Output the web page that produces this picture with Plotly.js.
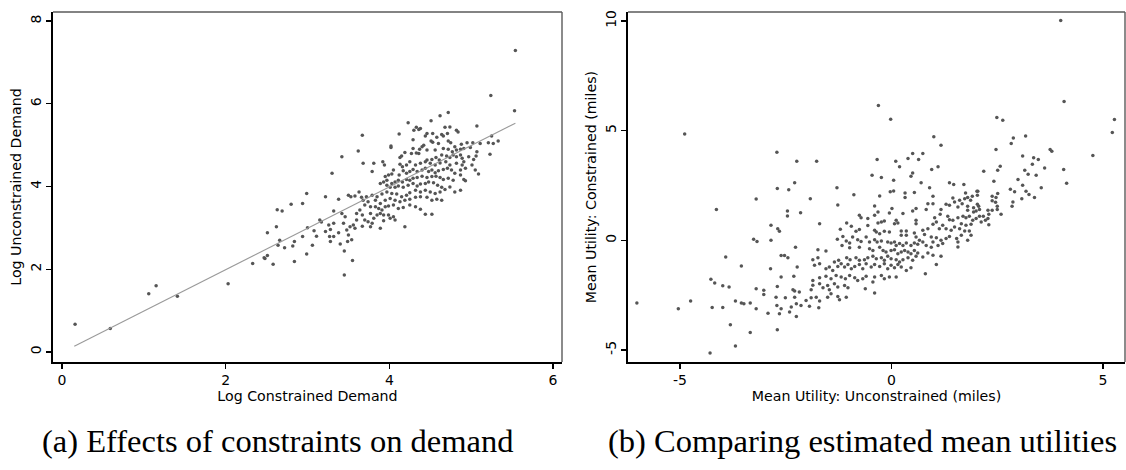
<!DOCTYPE html>
<html>
<head>
<meta charset="utf-8">
<script src="https://cdn.plot.ly/plotly-3.0.1.min.js"></script>
<style>
  html, body { margin: 0; padding: 0; background: #ffffff; }
  #chart { width: 1126px; height: 470px; }
</style>
</head>
<body>
<div id="chart"></div>
<script>
// ---- Panel (a): log constrained vs. log unconstrained demand ----
const demandConstrained = [
  0.16,0.59,1.06,1.15,1.41,2.03,2.33,2.47,2.48,2.51,2.51,2.58,2.62,2.63,2.66,2.64,2.69,2.72,2.80,2.82,2.84,2.84,
  5.54,5.24,3.30,3.42,3.62,3.63,
  2.99,2.94,3.22,3.38,3.50,3.53,3.58,3.32,3.15,3.17,3.00,3.08,3.11,2.94,3.06,2.99,3.26,3.28,3.27,3.32,3.38,3.40,
  3.45,3.45,3.55,3.49,3.54,3.50,3.48,3.52,3.56,3.58,3.42,3.46,3.60,3.32,3.44,3.60,3.22,3.28,
  4.72,4.62,5.53,4.51,4.23,5.07,4.33,4.36,4.38,4.30,4.68,4.74,4.82,4.84,4.53,4.46,4.12,3.67,4.71,4.66,
  4.64,4.44,4.58,4.29,4.72,4.75,4.60,4.51,4.53,5.25,5.33,5.27,5.21,5.11,5.02,4.95,4.88,4.80,4.82,4.02,
  4.02,4.29,4.37,4.40,4.42,4.46,4.56,4.66,4.72,4.77,4.87,4.91,4.99,5.07,5.23,4.36,4.33,4.27,4.19,4.15,
  4.13,4.64,4.70,4.74,4.78,4.82,4.87,4.89,4.97,5.03,5.06,4.46,4.52,4.57,4.61,4.44,4.38,4.32,4.25,4.21,
  4.16,4.13,3.92,3.94,3.81,3.68,3.79,4.50,4.56,4.62,4.69,4.74,4.82,4.89,4.91,5.01,5.05,5.09,4.93,4.87,
  4.05,4.03,3.99,3.95,4.12,4.17,4.21,4.25,4.29,4.34,4.40,4.44,4.48,4.52,4.56,4.60,4.66,4.71,4.76,4.80,
  4.87,4.91,4.93,4.78,4.72,4.66,4.62,4.57,4.52,4.46,4.40,4.34,4.29,4.25,4.21,4.16,4.11,4.07,4.03,3.97,
  3.93,3.89,3.97,4.01,4.07,4.11,4.17,4.23,4.29,4.34,4.38,4.44,4.48,4.54,4.59,4.64,4.68,4.74,4.80,4.87,
  4.62,4.56,4.50,4.44,4.38,4.32,4.25,4.21,4.15,4.09,4.03,3.97,3.91,3.85,3.79,3.72,3.66,3.68,3.74,3.83,
  3.89,3.95,4.01,4.07,4.13,4.19,4.25,4.32,4.38,4.46,4.52,4.58,4.64,3.70,3.77,3.83,3.87,3.91,3.95,3.99,
  4.05,4.11,4.17,4.25,4.32,4.38,4.44,4.52,3.89,3.85,3.93,3.99,4.05,3.81,3.77,3.67,3.70,3.74,3.79,3.67,
  3.77,3.89,4.19,4.01,4.07,3.93,3.64
];
const demandUnconstrained = [
  0.67,0.57,1.41,1.60,1.35,1.65,2.14,2.28,2.26,2.33,2.88,2.12,3.03,3.44,2.70,2.58,3.41,2.52,3.57,2.56,2.67,2.19,
  7.29,6.20,4.32,4.72,4.86,3.87,
  3.83,3.59,3.75,3.69,3.79,3.75,3.77,3.41,3.19,3.14,3.00,2.93,2.80,2.79,2.58,2.37,3.07,2.96,2.79,2.79,2.88,2.61,
  2.44,1.86,2.21,2.67,2.71,2.83,2.95,3.03,3.07,2.99,3.35,3.27,3.35,3.11,3.11,3.19,2.91,2.67,
  5.79,5.71,5.83,5.59,5.54,5.46,5.43,5.38,5.40,5.36,5.43,5.44,5.36,5.32,5.28,5.28,5.27,5.24,5.28,5.22,
  5.26,5.22,5.19,5.13,5.10,5.06,5.04,5.10,5.07,5.22,5.10,5.04,5.06,5.04,5.06,5.06,5.02,4.96,4.88,4.98,
  4.94,4.92,4.90,4.96,5.00,4.88,4.88,4.92,4.90,4.84,4.90,4.92,4.94,4.84,4.78,4.80,4.81,4.80,4.82,4.74,
  4.70,4.76,4.74,4.70,4.76,4.72,4.76,4.68,4.72,4.65,4.74,4.64,4.65,4.70,4.64,4.60,4.56,4.52,4.60,4.52,
  4.48,4.54,4.60,4.52,4.56,4.56,4.36,4.56,4.52,4.57,4.60,4.52,4.56,4.52,4.60,4.52,4.40,4.30,4.44,4.40,
  4.40,4.30,4.28,4.24,4.28,4.38,4.32,4.36,4.41,4.36,4.40,4.44,4.36,4.40,4.33,4.38,4.41,4.44,4.40,4.32,
  4.28,4.17,4.14,4.15,4.20,4.17,4.22,4.25,4.24,4.22,4.25,4.22,4.20,4.15,4.17,4.11,4.15,4.11,4.07,4.15,
  4.11,4.07,4.03,3.98,3.98,4.01,3.98,4.03,4.07,4.01,4.06,4.07,4.11,4.09,4.03,3.98,3.93,3.99,3.87,3.91,
  3.87,3.83,3.87,3.91,3.87,3.91,3.85,3.79,3.75,3.82,3.83,3.87,3.82,3.75,3.79,3.75,3.74,3.67,3.63,3.67,
  3.59,3.67,3.71,3.67,3.63,3.67,3.69,3.74,3.75,3.74,3.67,3.69,3.67,3.55,3.51,3.51,3.47,3.43,3.51,3.53,
  3.55,3.47,3.49,3.55,3.51,3.45,3.33,3.33,3.35,3.31,3.31,3.31,3.27,3.23,3.35,3.31,3.19,3.15,3.11,3.04,
  3.03,2.99,3.03,3.23,3.19,3.17,3.43
];
// Linear fit drawn across the observed range
const fitX = [0.15, 5.54];
const fitY = [0.14, 5.53];

// ---- Panel (b): estimated mean utilities ----
const utilUnconstrained = [
  -4.89,-2.71,-2.24,-1.77,
  -6.02,-5.04,-4.75,-4.29,-4.24,-4.14,-4.27,-4.18,-3.99,-3.84,-3.99,-3.92,-3.81,-3.69,-3.69,-3.55,
  -3.55,-3.49,-3.34,-3.34,-3.26,-3.18,-3.20,-3.20,-3.20,
  -2.92,-2.65,-2.41,-2.25,-2.70,
  -0.46,-0.24,0.05,0.50,0.46,-2.29,-2.70,-2.43,-1.29,-1.92,-0.89,-0.28,-0.03,0.05,0.32,0.32,0.54,
  -2.46,-2.46,-2.15,-1.27,-0.40,0.01,-0.05,-0.32,-0.40,-0.76,-0.72,-0.56,0.11,0.15,0.07,0.27,0.50,0.58,0.58,0.58,
  -1.70,-1.06,-0.32,-0.24,-0.17,-2.85,-2.69,-2.65,-1.21,-0.95,-0.84,-0.76,-0.56,-0.40,-0.36,-0.28,-0.17,-0.05,
  0.23,0.35,0.23,0.35,0.54,0.58,-2.85,-1.28,-1.15,-1.07,-0.99,-0.92,-0.80,-0.72,-0.60,-0.52,-0.40,-0.34,-0.24,
  -0.09,-0.01,0.07,0.11,0.19,0.27,0.35,0.46,0.54,0.62,-2.27,-1.74,-1.55,-1.17,-0.99,-0.76,-0.52,-0.44,-0.28,-0.20,
  -0.13,-0.01,0.07,0.15,0.23,0.31,0.39,0.46,0.54,0.62,-2.61,-2.53,-2.45,-1.86,-1.74,-1.35,-1.25,-1.06,-0.98,-0.84,
  -0.76,-0.64,-0.56,-0.44,-0.36,-0.24,-0.17,-0.09,-0.01,0.11,0.19,0.27,0.39,0.50,0.58,-2.86,-2.23,-1.82,-1.70,-1.55,
  -1.47,-1.39,-1.27,-1.19,-1.11,-1.03,-0.95,-0.87,-0.76,-0.68,-0.60,-0.48,-0.40,-0.28,-0.17,-0.09,-0.01,0.07,0.15,0.23,
  0.35,0.46,-2.61,-2.31,-1.86,-1.70,-1.55,-1.43,-1.31,-1.19,-1.09,-0.99,-0.87,-0.80,-0.68,-0.60,-0.44,-0.40,-0.24,-0.17,
  -0.05,0.11,-3.02,-3.02,-2.70,-2.33,-2.29,-2.18,-1.90,-1.86,-1.70,-1.62,-1.51,-1.47,-1.35,-1.27,-1.11,-1.03,-0.62,-0.40,
  -2.73,-2.51,-2.29,-2.02,-1.90,-1.78,-1.70,-1.51,-1.43,-1.27,-1.23,-1.07,-2.71,-2.61,-2.37,-2.25,-2.14,-1.94,-1.72,
  2.49,2.63,1.00,1.17,3.17,2.88,2.83,2.47,3.75,3.79,3.10,3.36,3.47,0.50,0.39,0.64,0.74,0.19,0.95,1.10,2.18,2.51,2.57,
  3.33,3.62,3.15,3.23,3.42,2.99,2.42,1.37,1.47,1.71,0.70,0.90,2.04,2.81,2.91,3.10,3.18,3.25,3.38,3.54,3.08,2.87,2.85,
  2.51,2.47,2.38,2.38,2.46,2.50,2.38,2.50,2.59,2.28,2.30,2.28,2.17,2.22,2.30,2.02,2.03,1.91,1.80,1.87,1.75,1.73,2.03,
  2.06,2.08,2.00,1.94,1.94,1.80,1.80,1.61,1.67,1.57,1.45,1.49,1.37,1.29,1.17,1.15,0.98,0.86,0.82,0.98,1.02,1.06,0.98,
  1.33,1.37,1.45,1.57,1.69,1.76,1.84,1.92,2.00,2.08,2.12,1.65,1.76,1.88,1.49,1.61,1.73,1.21,1.29,1.41,1.13,1.84,1.88,
  1.80,1.65,1.54,1.57,1.37,1.29,1.17,1.06,0.94,0.86,0.74,0.78,0.98,1.10,1.21,0.82,0.94,0.66,0.74,1.57,
  4.00,4.08,-0.31,-0.02,5.27,5.22,4.76,4.07,4.14,-0.34,0.10,
  0.80,1.06,1.17,0.74,0.86,0.98
];
const utilConstrained = [
  4.85,4.02,3.61,3.61,
  -2.86,-3.12,-2.77,-5.14,-3.06,1.40,-1.78,-1.95,-2.07,-2.13,-3.06,-0.76,-3.85,-2.77,-4.82,-1.17,
  -2.86,-2.89,-2.86,-4.20,0.05,-0.05,1.89,-2.21,-3.12,
  -3.32,-3.35,-3.27,-3.47,-4.08,
  2.97,2.86,2.74,3.07,2.92,2.63,2.36,2.31,2.40,1.90,2.08,2.02,2.21,2.25,2.16,1.95,2.18,
  1.34,1.11,1.26,1.61,1.57,1.45,1.25,1.29,1.14,1.14,1.03,0.99,0.91,0.79,0.76,1.22,1.34,1.45,0.91,0.76,
  0.76,0.79,0.79,0.84,0.88,0.69,0.53,0.41,0.50,0.64,0.41,0.49,0.68,0.46,0.38,0.30,0.41,0.38,
  0.43,0.43,0.23,0.23,0.33,0.15,0.00,0.05,0.18,-0.03,-0.12,0.15,0.03,-0.05,0.15,-0.08,0.03,-0.08,-0.03,
  -0.08,-0.12,-0.08,-0.23,-0.15,-0.23,-0.12,-0.23,-0.12,-0.18,-0.31,-0.43,-0.49,-0.23,-0.34,-0.31,-0.38,-0.46,-0.31,-0.46,
  -0.53,-0.46,-0.43,-0.61,-0.53,-0.46,-0.53,-0.61,-0.46,-0.58,-0.69,-0.69,-0.79,-0.88,-0.79,-0.99,-0.91,-0.79,-0.88,-0.79,
  -0.91,-0.88,-0.79,-0.73,-0.84,-0.79,-0.91,-0.73,-0.84,-0.88,-0.99,-0.88,-0.79,-0.91,-0.73,-1.29,-1.22,-1.14,-1.07,-1.29,
  -1.22,-1.37,-1.19,-1.07,-1.22,-1.10,-1.29,-1.19,-1.10,-1.29,-1.07,-1.22,-1.10,-1.19,-1.07,-1.29,-1.14,-1.25,-1.10,-1.22,
  -1.37,-1.25,-1.67,-1.64,-1.83,-1.71,-1.64,-1.75,-1.60,-1.67,-1.75,-1.60,-1.71,-1.83,-1.75,-1.64,-1.90,-1.67,-1.60,-1.75,
  -1.67,-1.67,-2.28,-2.47,-2.10,-2.25,-2.31,-2.36,-2.25,-2.05,-1.98,-2.16,-2.06,-2.25,-1.98,-2.13,-2.06,-2.16,-2.21,-2.40,
  -2.59,-2.62,-2.59,-2.74,-2.62,-2.59,-2.77,-2.59,-2.44,-2.56,-2.71,-2.59,-2.97,-3.12,-3.04,-2.89,-2.97,-3.01,-3.07,
  5.60,5.48,4.72,4.34,4.76,4.67,4.41,4.14,4.14,4.06,3.85,3.77,3.68,3.96,3.73,3.68,3.96,3.35,3.23,3.35,3.15,3.20,3.38,
  3.47,3.30,3.20,3.01,2.97,2.77,2.69,2.62,2.54,2.54,2.62,2.40,2.24,2.33,2.21,2.51,2.24,2.09,1.95,2.40,1.90,1.75,1.55,
  2.13,1.95,2.01,1.80,1.74,1.55,1.37,1.40,1.19,1.37,1.19,0.99,1.10,0.91,0.71,2.24,2.05,2.01,1.95,1.83,2.16,1.90,1.64,
  1.55,1.40,1.34,1.49,1.29,1.55,1.37,1.83,1.67,1.52,1.93,1.75,1.60,1.64,1.40,1.19,2.01,1.67,1.41,1.67,1.03,0.84,0.73,
  1.10,0.94,0.91,1.03,1.10,1.03,1.10,0.91,0.99,1.10,0.84,0.76,0.69,0.73,0.61,0.53,0.43,0.69,0.53,0.46,0.53,0.43,0.23,
  0.00,0.23,0.08,-0.08,0.18,0.08,0.00,0.12,0.15,0.53,0.46,0.27,-0.08,-0.23,-0.15,-0.23,-0.31,0.00,-0.08,-0.30,
  10.02,6.33,6.15,5.52,5.51,4.92,3.87,3.23,2.60,3.69,3.61,
  -1.52,-1.10,-0.73,-0.76,-0.58,-0.68
];

// ---- Tick labels and captions ----
const aXTicks = [0, 2, 4, 6];
const aYTicks = [0, 2, 4, 6, 8];
const bXTicks = [-5, 0, 5];
const bYTicks = [-5, 0, 5, 10];
const captionA = "(a) Effects of constraints on demand";
const captionB = "(b) Comparing estimated mean utilities";

const W = 1126, H = 470;
const px = v => v / W;
const py = v => 1 - v / H;

const dotStyle = { color: '#555555', size: 3.5, line: { width: 0 } };
const tickFont = { family: 'DejaVu Sans, sans-serif', size: 14, color: '#000' };
const titleFont = { family: 'DejaVu Sans, sans-serif', size: 14.2, color: '#000' };

function axisBase(extra) {
  return Object.assign({
    showgrid: false, zeroline: false,
    showline: true, linecolor: '#000', linewidth: 1.6,
    ticks: 'outside', ticklen: 5, tickwidth: 1.2, tickcolor: '#000',
    tickfont: tickFont, tickmode: 'array', fixedrange: true
  }, extra);
}

const traces = [
  { type: 'scatter', mode: 'markers', x: demandConstrained, y: demandUnconstrained,
    xaxis: 'x', yaxis: 'y', marker: dotStyle, hoverinfo: 'skip' },
  { type: 'scatter', mode: 'lines', x: fitX, y: fitY, xaxis: 'x', yaxis: 'y',
    line: { color: '#9a9a9a', width: 1.1 }, hoverinfo: 'skip' },
  { type: 'scatter', mode: 'markers', x: utilUnconstrained, y: utilConstrained,
    xaxis: 'x2', yaxis: 'y2', marker: dotStyle, hoverinfo: 'skip' }
];

// Plot-region border on the top and right sides
function frame(xr, yr) {
  const st = { type: 'line', xref: xr + ' domain', yref: yr + ' domain', line: { color: '#5a5a5a', width: 1.4 } };
  return [
    Object.assign({ x0: 0, x1: 1, y0: 1, y1: 1 }, st),
    Object.assign({ x0: 1, x1: 1, y0: 0, y1: 1 }, st)
  ];
}

const layout = {
  width: W, height: H,
  margin: { l: 0, r: 0, t: 0, b: 0 },
  paper_bgcolor: '#fff', plot_bgcolor: '#fff',
  showlegend: false,
  xaxis: axisBase({
    domain: [px(53), px(562)], range: [-0.11, 6.11], anchor: 'y',
    tickvals: aXTicks, ticktext: aXTicks.map(String),
    title: { text: 'Log Constrained Demand', font: titleFont, standoff: 1 }
  }),
  yaxis: axisBase({
    domain: [py(362), py(12)], range: [-0.242, 8.218], anchor: 'x',
    tickvals: aYTicks, ticktext: aYTicks.map(String), tickangle: -90,
    title: { text: 'Log Unconstrained Demand', font: titleFont, standoff: 3 }
  }),
  xaxis2: axisBase({
    domain: [px(628), px(1125)], range: [-6.23, 5.52], anchor: 'y2',
    tickvals: bXTicks, ticktext: bXTicks.map(String),
    title: { text: 'Mean Utility: Unconstrained (miles)', font: titleFont, standoff: 1 }
  }),
  yaxis2: axisBase({
    domain: [py(362), py(12)], range: [-5.547, 10.41], anchor: 'x2',
    tickvals: bYTicks, ticktext: bYTicks.map(String), tickangle: -90,
    title: { text: 'Mean Utility: Constrained (miles)', font: titleFont, standoff: 3 }
  }),
  shapes: frame('x', 'y').concat(frame('x2', 'y2')),
  annotations: [
    { text: captionA, xref: 'paper', yref: 'paper', x: px(277), y: py(441),
      xanchor: 'center', yanchor: 'middle', showarrow: false,
      font: { family: 'Liberation Serif, serif', size: 32.5, color: '#000' } },
    { text: captionB, xref: 'paper', yref: 'paper', x: px(862), y: py(441),
      xanchor: 'center', yanchor: 'middle', showarrow: false,
      font: { family: 'Liberation Serif, serif', size: 32.5, color: '#000' } }
  ]
};

Plotly.newPlot('chart', traces, layout, { displayModeBar: false, staticPlot: true });
</script>
</body>
</html>
